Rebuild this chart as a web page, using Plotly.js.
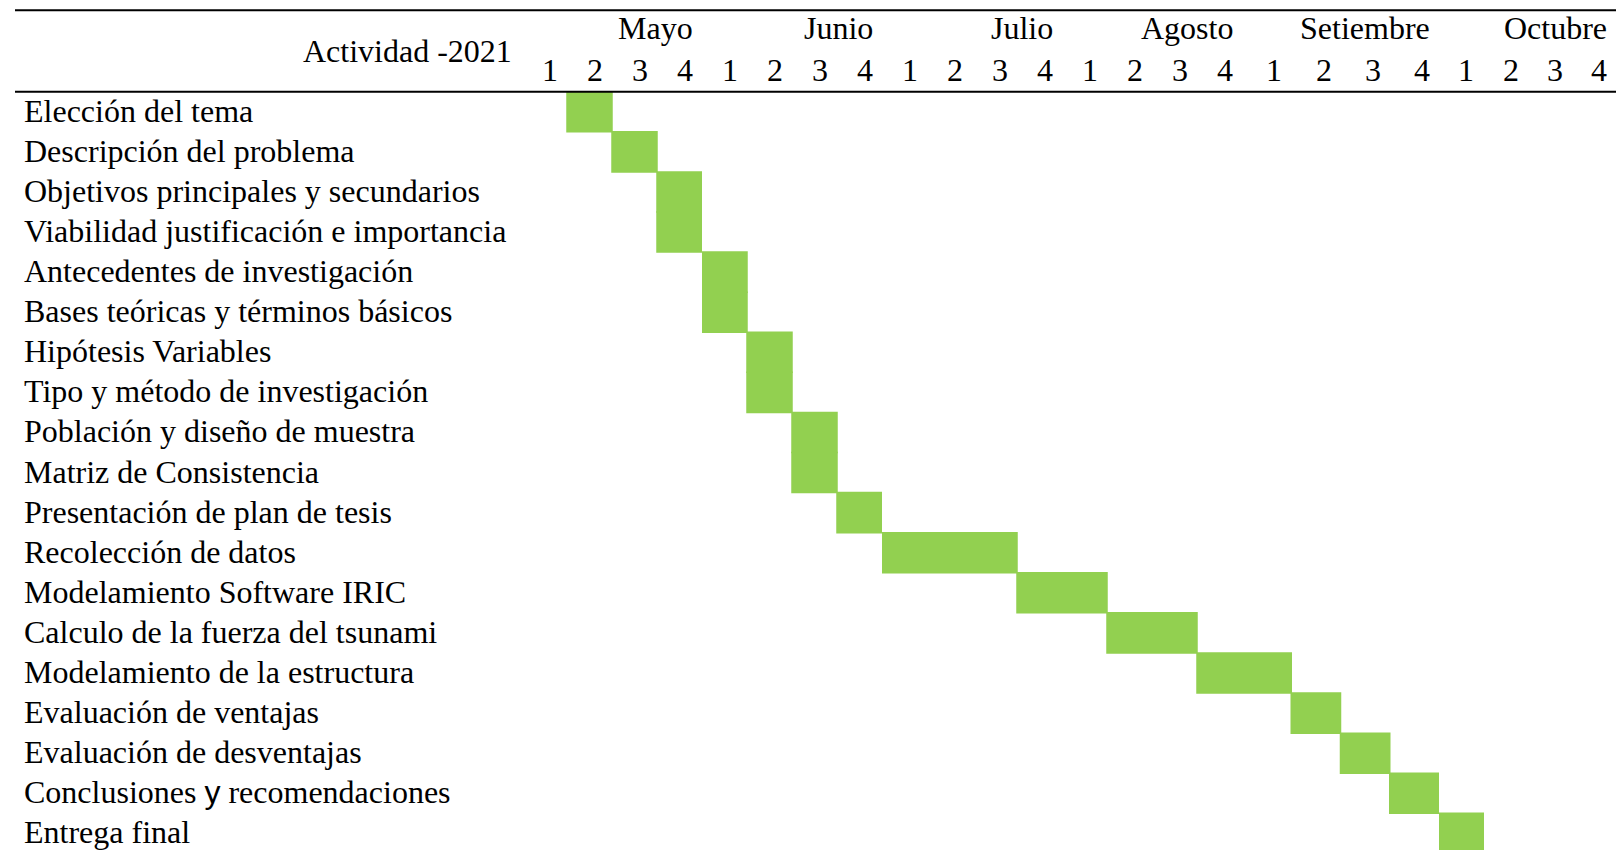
<!DOCTYPE html>
<html>
<head>
<meta charset="utf-8">
<script src="https://cdn.plot.ly/plotly-3.0.1.min.js"></script>
<style>html,body{margin:0;padding:0;background:#ffffff;overflow:hidden}</style>
</head>
<body>
<div id="chart" style="width:1616px;height:850px"></div>
<script>
// ---------------- data ----------------
const headerLabel = 'Actividad -2021';
const months = ['Mayo', 'Junio', 'Julio', 'Agosto', 'Setiembre', 'Octubre'];
const weekLabels = ['1', '2', '3', '4'];
const activities = [
  'Elección del tema',
  'Descripción del problema',
  'Objetivos principales y secundarios',
  'Viabilidad justificación e importancia',
  'Antecedentes de investigación',
  'Bases teóricas y términos básicos',
  'Hipótesis Variables',
  'Tipo y método de investigación',
  'Población y diseño de muestra',
  'Matriz de Consistencia',
  'Presentación de plan de tesis',
  'Recolección de datos',
  'Modelamiento Software IRIC',
  'Calculo de la fuerza del tsunami',
  'Modelamiento de la estructura',
  'Evaluación de ventajas',
  'Evaluación de desventajas',
  'Conclusiones y recomendaciones',
  'Entrega final'
];
// start week counted from week 1 of Mayo (1..24), and duration in weeks
const startWeek =     [2, 3, 4, 4, 5, 5, 6, 6, 7, 7, 8, 9, 12, 14, 16, 18, 19, 20, 21];
const durationWeeks = [1, 1, 1, 1, 1, 1, 1, 1, 1, 1, 1, 3, 2,  2,  2,  1,  1,  1,  1];

// ---------------- layout geometry ----------------
const W = 1616, H = 850;
const monthEdgesPx = [522, 702, 882, 1062, 1242, 1439, 1616];
const headerTopPx = 10.3;
const headerBottomPx = 91.7;
const rowHeightPx = 40.09;
const barColor = '#92D050';
const FONT = 'Liberation Serif, "Times New Roman", Times, serif';
const SANS = 'Liberation Sans, Arial, sans-serif';
const fontSize = 32;

const weeksPerMonth = weekLabels.length;
const axName = i => (i === 0 ? 'x' : 'x' + (i + 1));
const axLayoutName = i => (i === 0 ? 'xaxis' : 'xaxis' + (i + 1));

// split every activity into per-month segments (one x axis per month)
const segs = months.map(() => ({y: [], base: [], x: []}));
activities.forEach((name, r) => {
  let w = startWeek[r];
  const end = startWeek[r] + durationWeeks[r];
  while (w < end) {
    const m = Math.floor((w - 1) / weeksPerMonth);
    const local = (w - 1) % weeksPerMonth + 1;
    const monthEnd = (m + 1) * weeksPerMonth + 1;
    const segEnd = Math.min(end, monthEnd);
    segs[m].y.push(r);
    segs[m].base.push(local - 0.5);
    segs[m].x.push(segEnd - w);
    w = segEnd;
  }
});

const traces = months.map((mo, i) => ({
  type: 'bar',
  orientation: 'h',
  xaxis: axName(i),
  yaxis: 'y',
  y: segs[i].y,
  base: segs[i].base,
  x: segs[i].x,
  width: 1,
  marker: {color: barColor, line: {color: barColor, width: 1.5}},
  hoverinfo: 'skip',
  showlegend: false,
  cliponaxis: false
}));

const layout = {
  width: W,
  height: H,
  margin: {l: 0, r: 0, t: 0, b: 0, pad: 0},
  paper_bgcolor: '#ffffff',
  plot_bgcolor: 'rgba(0,0,0,0)',
  barmode: 'overlay',
  showlegend: false,
  hovermode: false,
  yaxis: {
    anchor: 'x',
    domain: [0, 1 - headerBottomPx / H],
    range: [-0.5 + (H - headerBottomPx) / rowHeightPx, -0.5],
    showgrid: false, zeroline: false, showticklabels: false, showline: false, ticks: '',
    fixedrange: true
  },
  annotations: [],
  shapes: [
    {type: 'line', xref: 'paper', yref: 'paper', x0: 15 / W, x1: 1,
     y0: 1 - headerTopPx / H, y1: 1 - headerTopPx / H, line: {color: '#000', width: 2}},
    {type: 'line', xref: 'paper', yref: 'paper', x0: 15 / W, x1: 1,
     y0: 1 - headerBottomPx / H, y1: 1 - headerBottomPx / H, line: {color: '#000', width: 2}}
  ]
};

months.forEach((mo, i) => {
  layout[axLayoutName(i)] = {
    domain: [monthEdgesPx[i] / W, monthEdgesPx[i + 1] / W],
    range: [0.5, weeksPerMonth + 0.5],
    anchor: 'y',
    showgrid: false, zeroline: false, showticklabels: false, showline: false, ticks: '',
    fixedrange: true
  };
  // month name, right aligned in its span
  layout.annotations.push({
    xref: axName(i) + ' domain', yref: 'paper',
    x: 1, y: 1 - 28.2 / H, xanchor: 'right', yanchor: 'middle', xshift: -7,
    text: mo, showarrow: false, font: {family: FONT, size: fontSize, color: '#000'}
  });
  // week numbers, right aligned in each column
  weekLabels.forEach((wl, k) => {
    layout.annotations.push({
      xref: axName(i), yref: 'paper',
      x: k + 1.5, y: 1 - 69.5 / H, xanchor: 'right', yanchor: 'middle', xshift: -7,
      text: wl, showarrow: false, font: {family: FONT, size: fontSize, color: '#000'}
    });
  });
});

// header label
layout.annotations.push({
  xref: 'paper', yref: 'paper', x: 514 / W, y: 1 - 51.5 / H,
  xanchor: 'right', yanchor: 'middle',
  text: headerLabel, showarrow: false, font: {family: FONT, size: fontSize, color: '#000'}
});

// activity names (the stray "y" in row 18 is typeset in a sans face, as in the source)
activities.forEach((name, r) => {
  const shown = name === 'Conclusiones y recomendaciones'
    ? 'Conclusiones <span style="font-family:' + SANS + '">y</span> recomendaciones'
    : name;
  layout.annotations.push({
    xref: 'paper', yref: 'y', x: 22 / W, y: r, yshift: 1,
    xanchor: 'left', yanchor: 'middle',
    text: shown, showarrow: false, font: {family: FONT, size: fontSize, color: '#000'}
  });
});

Plotly.newPlot('chart', traces, layout, {displayModeBar: false, staticPlot: true});
</script>
</body>
</html>
